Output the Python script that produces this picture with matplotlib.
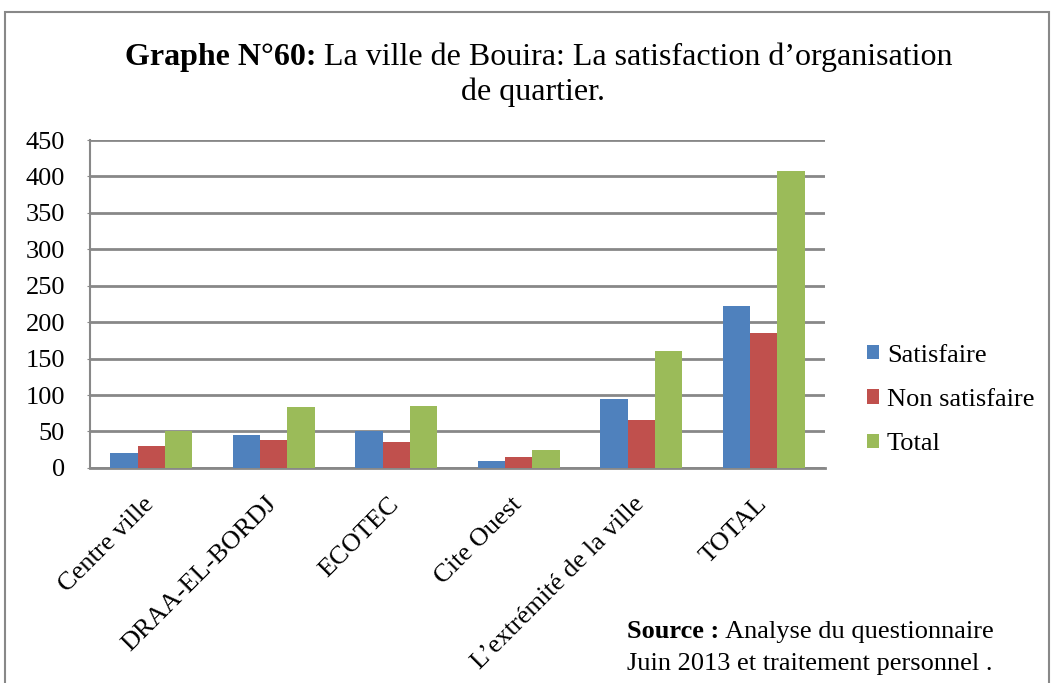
import numpy as np
import matplotlib.pyplot as plt
from matplotlib.patches import Rectangle
from matplotlib.transforms import ScaledTranslation

plt.rcParams['font.family'] = ['Liberation Serif', 'DejaVu Serif']

quartiers = ['Centre ville', 'DRAA-EL-BORDJ', 'ECOTEC', 'Cite Ouest',
             'L\u2019extrémité de la ville', 'TOTAL']
satisfaire = [21, 45, 50, 10, 95, 222]
non_satisfaire = [30, 38, 35, 15, 66, 185]
total = [51, 83, 85, 25, 161, 407]

series = [('Satisfaire', satisfaire, '#4F81BD'),
          ('Non satisfaire', non_satisfaire, '#C0504D'),
          ('Total', total, '#9BBB59')]

fig = plt.figure(figsize=(10.56, 6.83), dpi=100)
ax = fig.add_axes([0.0852, 0.315, 0.696, 0.480])

x = np.arange(len(quartiers))
w = 1 / 4.5
for i, (name, vals, col) in enumerate(series):
    ax.bar(x + (i - 1) * w, vals, w, color=col, label=name, zorder=3)

ax.set_xlim(-0.5, len(quartiers) - 0.5)
ax.set_ylim(0, 450)
ax.set_yticks(range(0, 451, 50))
ax.yaxis.grid(True, color='#888888', linewidth=2, zorder=0)
for s in ['top', 'right']:
    ax.spines[s].set_visible(False)
ax.spines['bottom'].set_color('#888888')
ax.spines['bottom'].set_linewidth(2)
ax.spines['left'].set_color('#888888')
ax.spines['left'].set_linewidth(1.5)
ax.tick_params(axis='y', length=2, color='#888888', pad=16, labelsize=19)
ax.tick_params(axis='x', length=0, pad=18, labelsize=19)
ax.set_xticks(x)
ax.set_xticklabels(quartiers, rotation=45, ha='right', va='top',
                   rotation_mode='anchor')
# nudge the slanted labels a little to the left
shift = ScaledTranslation(-0.08, 0, fig.dpi_scale_trans)
for lbl in ax.get_xticklabels():
    lbl.set_transform(lbl.get_transform() + shift)

ax.legend(loc='center left', bbox_to_anchor=(1.025, 0.207), frameon=False,
          fontsize=19, handlelength=0.45, handleheight=0.45,
          handletextpad=0.3, labelspacing=0.85)

# title: bold prefix followed by regular text
t1 = fig.text(0.118, 0.905, 'Graphe N°60:', fontsize=23, fontweight='bold',
              va='baseline', ha='left')
fig.canvas.draw()
ax.annotate(' La ville de Bouira: La satisfaction d\u2019organisation',
            xy=(1, 0), xycoords=t1, va='bottom', ha='left', fontsize=23,
            annotation_clip=False)
fig.text(0.505, 0.854, 'de quartier.', fontsize=23, ha='center', va='baseline')

# source note
s1 = fig.text(0.594, 0.066, 'Source :', fontsize=19, fontweight='bold',
              va='baseline', ha='left')
ax.annotate(' Analyse du questionnaire', xy=(1, 0), xycoords=s1,
            va='bottom', ha='left', fontsize=19, annotation_clip=False)
fig.text(0.594, 0.019, 'Juin 2013 et traitement personnel .', fontsize=19,
         va='baseline', ha='left')

fig.patches.append(Rectangle((0.005, -0.01), 0.988, 0.993, transform=fig.transFigure,
                             fill=False, edgecolor='#888888', linewidth=1.5))

fig.savefig('out.png', dpi=100)
